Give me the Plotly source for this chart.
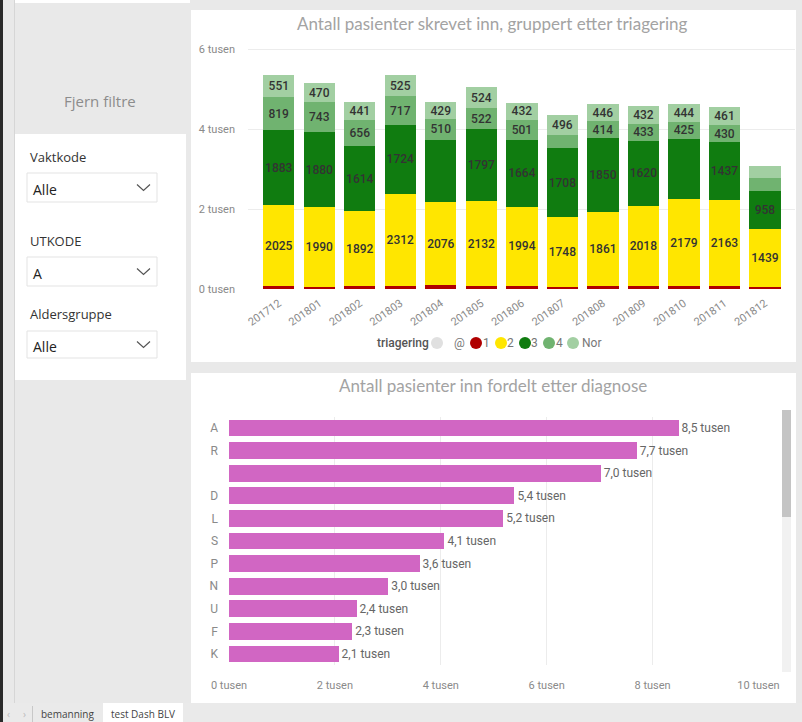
import plotly.graph_objects as go

# ---------------- data ----------------
months = ["201712", "201801", "201802", "201803", "201804", "201805", "201806",
          "201807", "201808", "201809", "201810", "201811", "201812"]
tri_at = [3, 2, 3, 3, 3, 3, 3, 2, 3, 3, 3, 3, 2]
tri_1 = [60, 55, 60, 65, 90, 60, 65, 55, 60, 60, 60, 65, 55]
tri_2 = [2025, 1990, 1892, 2312, 2076, 2132, 1994, 1748, 1861, 2018, 2179, 2163, 1439]
tri_3 = [1883, 1880, 1614, 1724, 1565, 1797, 1664, 1708, 1850, 1620, 1515, 1437, 958]
tri_4 = [819, 743, 656, 717, 510, 522, 501, 330, 414, 433, 425, 430, 310]
tri_nor = [551, 470, 441, 525, 429, 524, 432, 496, 446, 432, 444, 461, 320]
hidden_labels_3 = ["201804", "201810"]

series_names = ["@", "1", "2", "3", "4", "Nor"]
series_colors = ["#e0e0e0", "#b00000", "#ffe600", "#107c10", "#70b370", "#a2cfa2"]
y1_ticks = [0, 2000, 4000, 6000]
y1_ticktext = ["0 tusen", "2 tusen", "4 tusen", "6 tusen"]

diag_codes = ["A", "R", " ", "D", "L", "S", "P", "N", "U", "F", "K"]
diag_values = [8490, 7700, 7020, 5390, 5180, 4070, 3600, 3010, 2410, 2330, 2070]
x2_ticks = [0, 2000, 4000, 6000, 8000, 10000]
x2_ticktext = ["0 tusen", "2 tusen", "4 tusen", "6 tusen", "8 tusen", "10 tusen"]

# ---------------- helpers ----------------
W, H = 802, 722


def fx(px):
    return px / W


def fy(py):
    return 1 - py / H


LABEL_FONT = "Roboto, 'DejaVu Sans', sans-serif"
TEXT_FONT = "'Open Sans', 'Noto Sans', sans-serif"
TITLE_FONT = "Lato, 'Open Sans', sans-serif"

fig = go.Figure()

# ---------------- stacked column chart ----------------
all_series = [tri_at, tri_1, tri_2, tri_3, tri_4, tri_nor]
for name, vals, col in zip(series_names, all_series, series_colors):
    if name in ("@", "1"):
        texts = [""] * len(vals)
    else:
        texts = [str(v) if v >= 400 else "" for v in vals]
        if name == "3":
            texts = ["" if m in hidden_labels_3 else t for m, t in zip(months, texts)]
    fig.add_trace(go.Bar(
        x=months, y=vals, name=name, marker=dict(color=col, line=dict(width=0)),
        text=texts, textposition="inside", insidetextanchor="middle", textangle=0,
        textfont=dict(family=LABEL_FONT, size=12, color="#333333", weight=500),
        width=0.77, xaxis="x", yaxis="y", showlegend=False, hoverinfo="skip",
    ))

# ---------------- horizontal bar chart ----------------
diag_text = [f"{v / 1000:.1f}".replace(".", ",") + " tusen" for v in diag_values]
fig.add_trace(go.Bar(
    y=diag_codes, x=diag_values, orientation="h",
    marker=dict(color="#d166c3", line=dict(width=0)),
    text=diag_text, textposition="outside", cliponaxis=False,
    textfont=dict(family=LABEL_FONT, size=11, color="#666666"),
    width=0.75, xaxis="x2", yaxis="y2", showlegend=False, hoverinfo="skip",
))

# ---------------- shapes (page chrome) ----------------
shapes = []


def rect(x0, y0, x1, y1, fill, line=None, lw=0):
    shapes.append(dict(type="rect", xref="paper", yref="paper",
                       x0=fx(x0), x1=fx(x1), y0=fy(y1), y1=fy(y0),
                       fillcolor=fill, line=dict(color=line or fill, width=lw),
                       layer="below"))


rect(0, 0, 3, 722, "#2a2a2a")
rect(14, 0, 15, 703, "#d6d6d6")
rect(15, 0, 190, 3, "#ffffff")
rect(191, 10, 796, 362, "#ffffff")
rect(191, 373, 796, 703, "#ffffff")
rect(15, 134, 186, 380, "#ffffff")
# tab bar
rect(3, 703, 802, 722, "#eaeaea")
rect(32, 706, 33, 722, "#c8c8c8")
rect(103, 703, 183, 722, "#ffffff")
# dropdown boxes
for (top, bot) in [(173, 202), (257, 286), (331, 358)]:
    rect(27, top, 157, bot, "#ffffff", line="#e3e3e3", lw=1)
    cy = (top + bot) / 2
    shapes.append(dict(type="path", xref="paper", yref="paper",
                       path=f"M {fx(137)},{fy(cy - 3)} L {fx(143.5)},{fy(cy + 3)} L {fx(150)},{fy(cy - 3)}",
                       line=dict(color="#555555", width=1.2)))
# scrollbar
shapes.append(dict(type="rect", xref="paper", yref="paper", x0=fx(782), x1=fx(791),
                   y0=fy(672), y1=fy(410), fillcolor="#f1f1f1", line=dict(width=0)))
shapes.append(dict(type="rect", xref="paper", yref="paper", x0=fx(782), x1=fx(791),
                   y0=fy(517), y1=fy(410), fillcolor="#c4c4c4", line=dict(width=0)))

# manual legend (circle markers)
legend_circle_x = [437, 476, 501, 525, 549, 573]
legend_text_x = [459, 486, 510, 534, 559, 591]
LEG_Y = 343
for cx, col in zip(legend_circle_x, series_colors):
    shapes.append(dict(type="circle", xref="paper", yref="paper",
                       x0=fx(cx - 6), x1=fx(cx + 6), y0=fy(LEG_Y + 6), y1=fy(LEG_Y - 6),
                       fillcolor=col, line=dict(width=0)))

# ---------------- annotations ----------------
ann = []


def text(x, y, s, size=12, color="#333333", family=TEXT_FONT, anchor="left", weight=None):
    f = dict(family=family, size=size, color=color)
    if weight:
        f["weight"] = weight
    ann.append(dict(x=fx(x), y=fy(y), xref="paper", yref="paper", text=s, showarrow=False,
                    xanchor=anchor, yanchor="middle", font=f))


text(493, 23, "Antall pasienter skrevet inn, gruppert etter triagering", size=17,
     color="#a3a3a3", family=TITLE_FONT, anchor="center")
text(493, 385, "Antall pasienter inn fordelt etter diagnose", size=17,
     color="#a3a3a3", family=TITLE_FONT, anchor="center")
text(100, 101, "Fjern filtre", size=15, color="#8c8c8c", anchor="center")
text(28, 157, "Vaktkode", size=13, color="#333333")
text(31, 189, "Alle", size=14, color="#222222")
text(28, 241, "UTKODE", size=13, color="#333333")
text(31, 273, "A", size=14, color="#222222")
text(28, 314, "Aldersgruppe", size=13, color="#333333")
text(31, 346, "Alle", size=14, color="#222222")
text(67, 714, "bemanning", size=10, color="#444444", anchor="center")
text(143, 714, "test Dash BLV", size=10, color="#444444", anchor="center")
text(8, 714, "‹", size=10, color="#bbbbbb", anchor="center")
text(24, 714, "›", size=10, color="#bbbbbb", anchor="center")
text(431, LEG_Y, "triagering", size=12, color="#555555", family=LABEL_FONT, anchor="right", weight=500)
for tx, name in zip(legend_text_x, series_names):
    text(tx, LEG_Y, name, size=12, color="#777777", family=LABEL_FONT, anchor="center")

# ---------------- layout ----------------
tickfont = dict(family=LABEL_FONT, size=11, color="#8a8a8a")
fig.update_layout(
    width=W, height=H, margin=dict(l=0, r=0, t=0, b=0, pad=0, autoexpand=False),
    paper_bgcolor="#e9e9e9", plot_bgcolor="rgba(0,0,0,0)",
    barmode="stack", showlegend=False,
    uniformtext=dict(minsize=12, mode="show"),
    shapes=shapes, annotations=ann,
    xaxis=dict(domain=[fx(248), fx(795)], anchor="y", type="category",
               categoryorder="array", categoryarray=months, automargin=False,
               range=[-0.76, 12.74], tickangle=-35, tickfont=tickfont,
               showgrid=False, zeroline=False, ticks="", ticklabelstandoff=5),
    yaxis=dict(domain=[fy(289), fy(47)], anchor="x", range=[0, 6050], automargin=False,
               tickvals=y1_ticks, ticktext=y1_ticktext, tickfont=tickfont,
               showgrid=True, gridcolor="#ececec", gridwidth=1, zeroline=False,
               ticks="", ticklabelstandoff=12),
    xaxis2=dict(domain=[fx(229), fx(759)], anchor="y2", range=[0, 10010], automargin=False,
                tickvals=x2_ticks, ticktext=x2_ticktext, tickfont=tickfont,
                showgrid=True, gridcolor="#ececec", zeroline=False, ticks="",
                ticklabelstandoff=12),
    yaxis2=dict(domain=[fy(665.3), fy(416.7)], anchor="x2", type="category", automargin=False,
                categoryorder="array", categoryarray=diag_codes, autorange="reversed",
                tickfont=dict(family=LABEL_FONT, size=12, color="#8a8a8a"),
                showgrid=False, zeroline=False, ticks="", ticklabelstandoff=10),
)

fig.write_html("out.html", config={"displayModeBar": False},
               post_script="document.body.style.margin='0';document.body.style.overflow='hidden';")
